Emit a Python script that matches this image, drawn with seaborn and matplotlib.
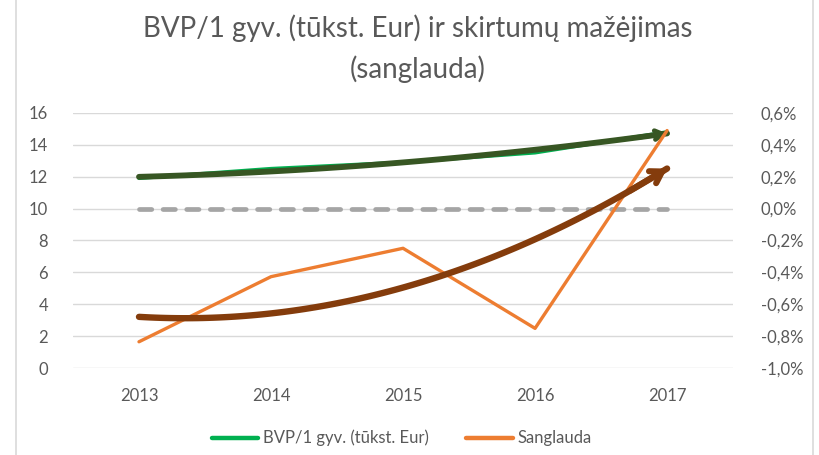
import numpy as np
import pandas as pd
import matplotlib
matplotlib.use("Agg")
import matplotlib.pyplot as plt
import seaborn as sns
from matplotlib.ticker import FuncFormatter
from matplotlib.lines import Line2D

# Data
years = [2013, 2014, 2015, 2016, 2017]
bvp = [11.9, 12.5, 12.9, 13.5, 14.8]            # BVP/1 gyv. (tukst. Eur), left axis
sanglauda = [-0.835, -0.427, -0.249, -0.751, 0.489]  # %, right axis
zero_line = [0.0, 0.0, 0.0, 0.0, 0.0]           # reference line at 0,0%

title = "BVP/1 gyv. (tūkst. Eur) ir skirtumų mažėjimas\n(sanglauda)"
label_bvp = "BVP/1 gyv. (tūkst. Eur)"
label_sang = "Sanglauda"

sns.set_style("white")
plt.rcParams["font.family"] = ["Lato", "DejaVu Sans"]

GREEN = "#00b050"
DKGREEN = "#375623"
ORANGE = "#ed7d31"
BROWN = "#843c0c"
GREY = "#a5a5a5"
TXT = "#595959"

fig = plt.figure(figsize=(8.2, 4.55), dpi=100)
ax = fig.add_axes([0.089, 0.191, 0.805, 0.561])
ax2 = ax.twinx()

df = pd.DataFrame({"year": years, "bvp": bvp, "sang": sanglauda, "zero": zero_line})

# primary axis: BVP and its quadratic trend
sns.lineplot(data=df, x="year", y="bvp", ax=ax, color=GREEN, lw=2.6, zorder=2)
sns.regplot(data=df, x="year", y="bvp", ax=ax, order=2, ci=None, scatter=False,
            truncate=True, line_kws={"color": DKGREEN, "lw": 4.2, "zorder": 3,
                                     "solid_capstyle": "round"})
tr = ax.lines[-1]
xs, ys = tr.get_xdata(), tr.get_ydata()
ax.annotate("", xy=(xs[-1], ys[-1]), xytext=(xs[-6], ys[-6]),
            arrowprops=dict(arrowstyle="->,head_length=0.55,head_width=0.32",
                            color=DKGREEN, lw=3.4, shrinkA=0, shrinkB=0), zorder=4)

# secondary axis: sanglauda, zero line and trend
sns.lineplot(data=df, x="year", y="zero", ax=ax2, color=GREY, lw=3.4,
             dashes=False, zorder=1, linestyle=(0, (2.6, 2.4)),
             dash_capstyle="round")
sns.lineplot(data=df, x="year", y="sang", ax=ax2, color=ORANGE, lw=2.4, zorder=2)
sns.regplot(data=df, x="year", y="sang", ax=ax2, order=2, ci=None, scatter=False,
            truncate=True, line_kws={"color": BROWN, "lw": 4.6, "zorder": 3,
                                     "solid_capstyle": "round"})
tr = ax2.lines[-1]
xs, ys = tr.get_xdata(), tr.get_ydata()
ax2.annotate("", xy=(xs[-1], ys[-1]), xytext=(xs[-8], ys[-8]),
             arrowprops=dict(arrowstyle="->,head_length=0.8,head_width=0.5",
                             color=BROWN, lw=4.4, shrinkA=0, shrinkB=0), zorder=4)

for a in (ax, ax2):
    if a.get_legend() is not None:
        a.get_legend().remove()
    a.set_xlabel("")
    a.set_ylabel("")
    for s in a.spines.values():
        s.set_visible(False)
    a.tick_params(length=0, colors=TXT, labelsize=12)


def pct(v, p):
    v = round(v, 1) + 0.0
    if v == 0:
        v = 0.0
    return f"{v:.1f}%".replace(".", ",")


ax.set_xlim(2012.5, 2017.5)
ax.set_xticks(years)
ax.set_xticklabels([str(y) for y in years])
ax.set_ylim(0, 16)
ax.set_yticks(range(0, 17, 2))
ax2.set_ylim(-1.0, 0.6)
ax2.set_yticks(np.arange(-1.0, 0.61, 0.2))
ax2.yaxis.set_major_formatter(FuncFormatter(pct))
ax.grid(axis="y", color="#d9d9d9", lw=1)
ax.set_axisbelow(True)
ax.tick_params(axis="y", pad=18)
ax.tick_params(axis="x", pad=14)
ax2.tick_params(axis="y", pad=20)

fig.text(0.509, 0.893, title, ha="center", va="center", fontsize=20,
         color=TXT, linespacing=1.6)

handles = [Line2D([], [], color=GREEN, lw=3.2), Line2D([], [], color=ORANGE, lw=3.2)]
fig.legend(handles, [label_bvp, label_sang], loc="center", bbox_to_anchor=(0.49, 0.037),
           ncol=2, frameon=False, fontsize=12, labelcolor=TXT, handlelength=2.8,
           handletextpad=0.3, columnspacing=2.2)

# chart area border (left/right edges visible in the crop)
fig.add_artist(Line2D([0.02, 0.02], [0, 1], color="#d9d9d9", lw=1.2))
fig.add_artist(Line2D([0.991, 0.991], [0, 1], color="#d9d9d9", lw=1.2))

fig.savefig("out.png", dpi=100)
